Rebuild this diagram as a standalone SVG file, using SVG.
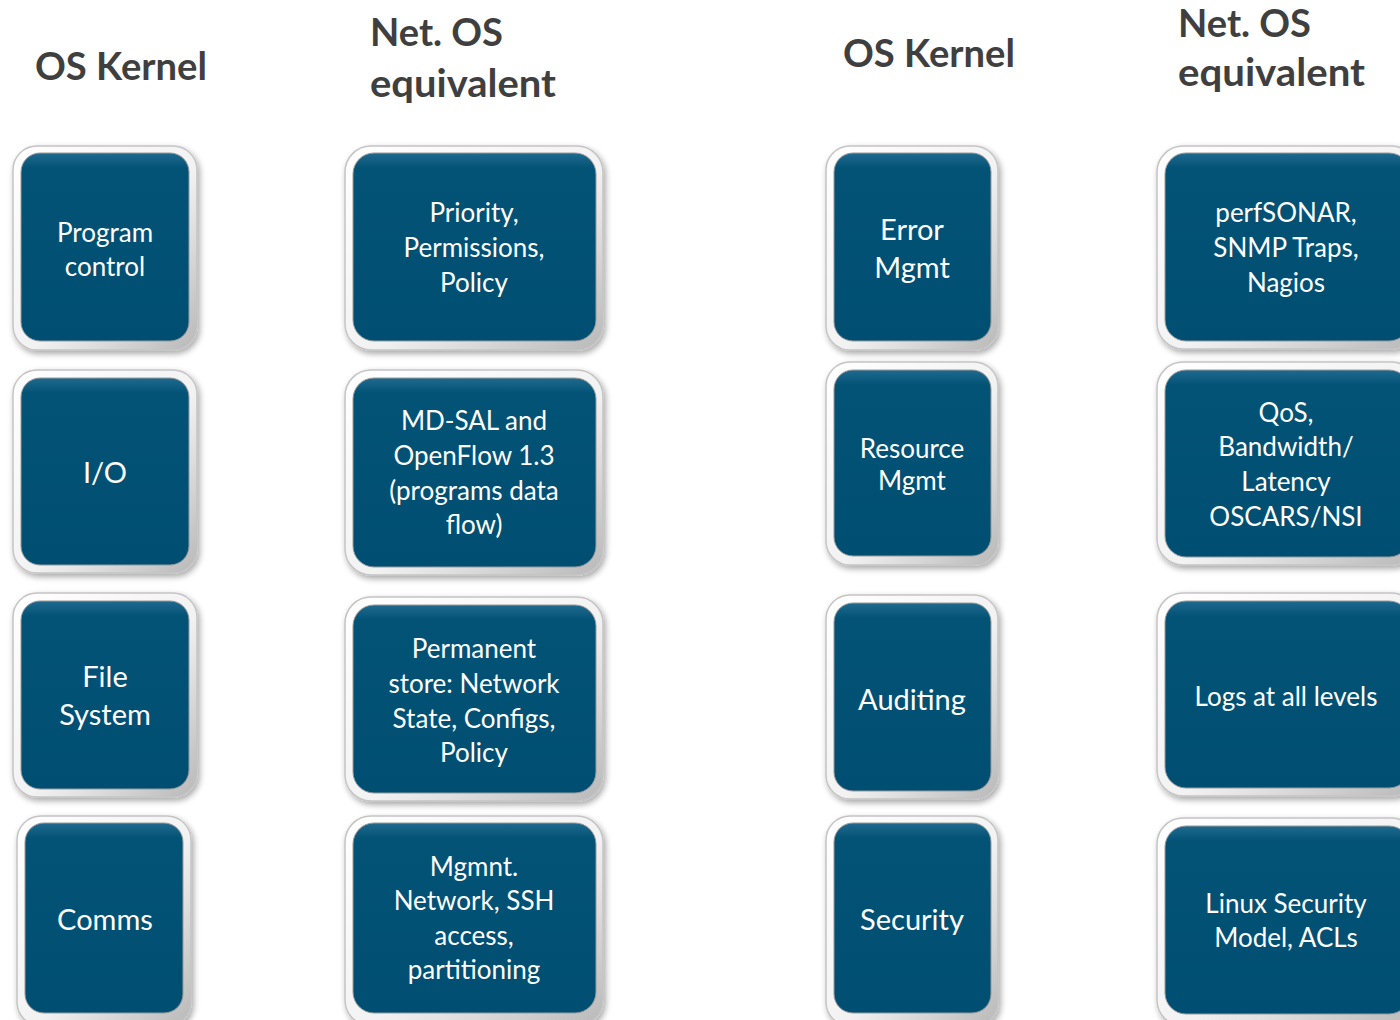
<svg xmlns="http://www.w3.org/2000/svg" width="1400" height="1020" viewBox="0 0 1400 1020">
  <defs>
    <linearGradient id="frameGrad" x1="0" y1="0" x2="1" y2="1">
      <stop offset="0" stop-color="#ffffff"/>
      <stop offset="0.55" stop-color="#f2f2f2"/>
      <stop offset="1" stop-color="#b8b8b8"/>
    </linearGradient>
    <linearGradient id="faceGrad" x1="0" y1="0" x2="0" y2="1">
      <stop offset="0" stop-color="#1f6a8e"/>
      <stop offset="0.08" stop-color="#035377"/>
      <stop offset="1" stop-color="#004f72"/>
    </linearGradient>
    <filter id="shadow" x="-10%" y="-10%" width="125%" height="125%">
      <feGaussianBlur in="SourceAlpha" stdDeviation="3"/>
      <feOffset dx="2" dy="3" result="b"/>
      <feComponentTransfer><feFuncA type="linear" slope="0.35"/></feComponentTransfer>
      <feMerge><feMergeNode/><feMergeNode in="SourceGraphic"/></feMerge>
    </filter>
  </defs>
  <style>
    .frame { fill: url(#frameGrad); stroke: #c4c4c4; stroke-width: 1.5; filter: url(#shadow); }
    .face { fill: url(#faceGrad); stroke: #9a9a9a; stroke-width: 1; }
    .lbl { fill: #ffffff; font-family: Lato, "Open Sans", sans-serif; font-size: 26px; text-anchor: middle; }
    .big { font-size: 29px; }
    .head { fill: #3f3f3f; font-family: Lato, "Open Sans", sans-serif; font-weight: bold; font-size: 39px; }
  </style>

  <rect width="1400" height="1020" fill="#ffffff"/>

  <!-- column headings -->
  <g id="headings">
    <text class="head" x="35" y="80" textLength="172" lengthAdjust="spacingAndGlyphs">OS Kernel</text>
    <text class="head" x="370" y="46" textLength="133" lengthAdjust="spacingAndGlyphs">Net. OS</text>
    <text class="head" x="370" y="97" textLength="186" lengthAdjust="spacingAndGlyphs">equivalent</text>
    <text class="head" x="843" y="67" textLength="172" lengthAdjust="spacingAndGlyphs">OS Kernel</text>
    <text class="head" x="1178" y="37" textLength="133" lengthAdjust="spacingAndGlyphs">Net. OS</text>
    <text class="head" x="1178" y="86" textLength="187" lengthAdjust="spacingAndGlyphs">equivalent</text>
  </g>

  <!-- left OS kernel column -->
  <g id="program-control">
    <rect class="frame" x="13" y="146" width="184" height="204" rx="24"/>
    <rect class="face" x="21" y="153" width="168" height="188" rx="19"/>
    <text class="lbl" x="105" y="242">Program</text>
    <text class="lbl" x="105" y="276">control</text>
  </g>
  <g id="io">
    <rect class="frame" x="13" y="370" width="184" height="203" rx="24"/>
    <rect class="face" x="21" y="378" width="168" height="187" rx="19"/>
    <text class="lbl big" x="105" y="483">I/O</text>
  </g>
  <g id="file-system">
    <rect class="frame" x="13" y="593" width="184" height="204" rx="24"/>
    <rect class="face" x="21" y="601" width="168" height="188" rx="19"/>
    <text class="lbl big" x="105" y="687">File</text>
    <text class="lbl big" x="105" y="725">System</text>
  </g>
  <g id="comms">
    <rect class="frame" x="17" y="816" width="174" height="210" rx="24"/>
    <rect class="face" x="25" y="823" width="158" height="190" rx="19"/>
    <text class="lbl big" x="105" y="930">Comms</text>
  </g>

  <!-- left network OS column -->
  <g id="priority">
    <rect class="frame" x="345" y="146" width="258" height="204" rx="26"/>
    <rect class="face" x="353" y="153" width="243" height="188" rx="21"/>
    <text class="lbl" x="474" y="222">Priority,</text>
    <text class="lbl" x="474" y="257">Permissions,</text>
    <text class="lbl" x="474" y="292">Policy</text>
  </g>
  <g id="md-sal">
    <rect class="frame" x="345" y="370" width="258" height="205" rx="26"/>
    <rect class="face" x="353" y="378" width="243" height="189" rx="21"/>
    <text class="lbl" x="474" y="430">MD-SAL and</text>
    <text class="lbl" x="474" y="465">OpenFlow 1.3</text>
    <text class="lbl" x="474" y="500">(programs data</text>
    <text class="lbl" x="474" y="534">flow)</text>
  </g>
  <g id="permanent-store">
    <rect class="frame" x="345" y="597" width="258" height="204" rx="26"/>
    <rect class="face" x="353" y="605" width="243" height="188" rx="21"/>
    <text class="lbl" x="474" y="658">Permanent</text>
    <text class="lbl" x="474" y="693">store: Network</text>
    <text class="lbl" x="474" y="728">State, Configs,</text>
    <text class="lbl" x="474" y="762">Policy</text>
  </g>
  <g id="mgmnt-network">
    <rect class="frame" x="345" y="816" width="258" height="210" rx="26"/>
    <rect class="face" x="353" y="823" width="243" height="190" rx="21"/>
    <text class="lbl" x="474" y="876">Mgmnt.</text>
    <text class="lbl" x="474" y="910">Network, SSH</text>
    <text class="lbl" x="474" y="945">access,</text>
    <text class="lbl" x="474" y="979">partitioning</text>
  </g>

  <!-- right OS kernel column -->
  <g id="error-mgmt">
    <rect class="frame" x="826" y="146" width="172" height="204" rx="24"/>
    <rect class="face" x="834" y="153" width="157" height="188" rx="19"/>
    <text class="lbl big" x="912" y="240">Error</text>
    <text class="lbl big" x="912" y="278">Mgmt</text>
  </g>
  <g id="resource-mgmt">
    <rect class="frame" x="826" y="362" width="172" height="203" rx="24"/>
    <rect class="face" x="834" y="370" width="157" height="186" rx="19"/>
    <text class="lbl" x="912" y="458">Resource</text>
    <text class="lbl" x="912" y="490">Mgmt</text>
  </g>
  <g id="auditing">
    <rect class="frame" x="826" y="595" width="172" height="204" rx="24"/>
    <rect class="face" x="834" y="603" width="157" height="188" rx="19"/>
    <text class="lbl big" x="912" y="710">Auditing</text>
  </g>
  <g id="security">
    <rect class="frame" x="826" y="816" width="172" height="210" rx="24"/>
    <rect class="face" x="834" y="823" width="157" height="190" rx="19"/>
    <text class="lbl big" x="912" y="930">Security</text>
  </g>

  <!-- right network OS column -->
  <g id="perfsonar">
    <rect class="frame" x="1157" y="146" width="260" height="203" rx="26"/>
    <rect class="face" x="1165" y="153" width="245" height="188" rx="21"/>
    <text class="lbl" x="1286" y="222">perfSONAR,</text>
    <text class="lbl" x="1286" y="257">SNMP Traps,</text>
    <text class="lbl" x="1286" y="292">Nagios</text>
  </g>
  <g id="qos">
    <rect class="frame" x="1157" y="362" width="260" height="203" rx="26"/>
    <rect class="face" x="1165" y="370" width="245" height="187" rx="21"/>
    <text class="lbl" x="1286" y="422">QoS,</text>
    <text class="lbl" x="1286" y="456">Bandwidth/</text>
    <text class="lbl" x="1286" y="491">Latency</text>
    <text class="lbl" x="1286" y="526">OSCARS/NSI</text>
  </g>
  <g id="logs">
    <rect class="frame" x="1157" y="593" width="260" height="203" rx="26"/>
    <rect class="face" x="1165" y="601" width="245" height="187" rx="21"/>
    <text class="lbl" x="1286" y="706">Logs at all levels</text>
  </g>
  <g id="linux-security">
    <rect class="frame" x="1157" y="818" width="260" height="208" rx="26"/>
    <rect class="face" x="1165" y="826" width="245" height="188" rx="21"/>
    <text class="lbl" x="1286" y="913">Linux Security</text>
    <text class="lbl" x="1286" y="947">Model, ACLs</text>
  </g>

  <!-- no connectors in this layout -->
  <g id="connectors"/>
</svg>
